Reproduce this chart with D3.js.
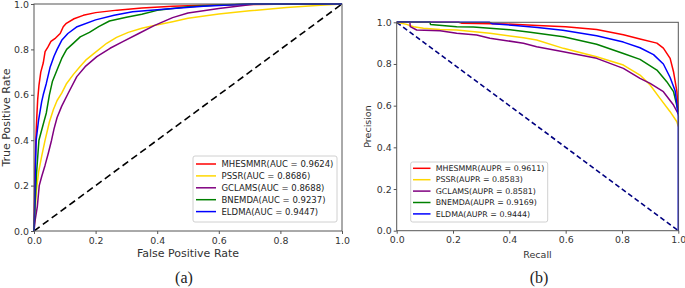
<!DOCTYPE html>
<html>
<head>
<meta charset="utf-8">
<script src="https://cdn.jsdelivr.net/npm/d3@7"></script>
<style>
  html, body { margin: 0; padding: 0; background: #fff; }
  svg { display: block; font-family: "DejaVu Sans", sans-serif; }
</style>
</head>
<body>
<div id="chart"></div>
<script>
// ---- data ----
const models = ["MHESMMR", "PSSR", "GCLAMS", "BNEMDA", "ELDMA"];
const colors = ["#ff0000", "#ffd700", "#800080", "#008000", "#0000ff"];
const aucValues = ["0.9624", "0.8686", "0.8688", "0.9237", "0.9447"];
const auprValues = ["0.9611", "0.8583", "0.8581", "0.9169", "0.9444"];
const tickValues = [0, 0.2, 0.4, 0.6, 0.8, 1.0];

// ROC curves, [fpr, tpr]
const rocMHESMMR = [[0,0],[0.001,0.1],[0.003,0.25],[0.006,0.4],[0.009,0.5],[0.012,0.58],[0.016,0.64],[0.022,0.70],[0.03,0.74],[0.036,0.79],[0.045,0.81],[0.055,0.835],[0.07,0.85],[0.085,0.87],[0.095,0.9],[0.105,0.915],[0.13,0.935],[0.16,0.95],[0.2,0.962],[0.27,0.973],[0.35,0.982],[0.45,0.99],[0.55,0.995],[0.7,0.998],[0.85,1],[1,1]];
const rocPSSR = [[0,0],[0.003,0.08],[0.008,0.18],[0.015,0.26],[0.025,0.33],[0.036,0.4],[0.05,0.48],[0.063,0.535],[0.075,0.575],[0.09,0.607],[0.106,0.65],[0.128,0.69],[0.149,0.724],[0.17,0.755],[0.193,0.78],[0.236,0.827],[0.268,0.853],[0.306,0.875],[0.35,0.893],[0.39,0.905],[0.45,0.922],[0.5,0.937],[0.6,0.956],[0.7,0.97],[0.82,0.985],[0.93,0.995],[1,1]];
const rocGCLAMS = [[0,0],[0.004,0.05],[0.011,0.11],[0.017,0.2],[0.025,0.24],[0.036,0.29],[0.046,0.34],[0.057,0.4],[0.065,0.45],[0.075,0.5],[0.09,0.55],[0.111,0.607],[0.139,0.68],[0.166,0.724],[0.204,0.768],[0.247,0.805],[0.29,0.835],[0.34,0.87],[0.39,0.905],[0.45,0.94],[0.5,0.96],[0.6,0.98],[0.72,1],[1,1]];
const rocBNEMDA = [[0,0],[0.003,0.1],[0.008,0.25],[0.016,0.4],[0.03,0.47],[0.04,0.52],[0.05,0.6],[0.06,0.66],[0.078,0.72],[0.09,0.76],[0.106,0.8],[0.13,0.83],[0.15,0.855],[0.18,0.875],[0.21,0.9],[0.245,0.925],[0.3,0.942],[0.35,0.955],[0.4,0.972],[0.5,0.988],[0.6,0.996],[0.7,1],[1,1]];
const rocELDMA = [[0,0],[0.002,0.1],[0.004,0.25],[0.007,0.4],[0.015,0.49],[0.025,0.57],[0.03,0.6],[0.04,0.65],[0.052,0.72],[0.065,0.77],[0.075,0.8],[0.09,0.84],[0.11,0.87],[0.14,0.9],[0.2,0.93],[0.26,0.95],[0.32,0.966],[0.43,0.978],[0.55,0.99],[0.7,1],[1,1]];

// PR curves, [recall, precision]
const prMHESMMR = [[0,1],[0.22,1],[0.23,0.996],[0.39,0.992],[0.5,0.985],[0.6,0.979],[0.71,0.965],[0.805,0.94],[0.864,0.92],[0.924,0.9],[0.947,0.876],[0.971,0.827],[0.983,0.763],[0.995,0.667],[1,0.58]];
const prPSSR = [[0,1],[0.035,0.99],[0.06,0.979],[0.095,0.971],[0.154,0.966],[0.213,0.963],[0.331,0.947],[0.45,0.926],[0.497,0.915],[0.592,0.875],[0.71,0.835],[0.805,0.795],[0.864,0.747],[0.9,0.699],[0.935,0.635],[0.971,0.571],[0.995,0.523],[1,0.5]];
const prGCLAMS = [[0,1],[0.047,1],[0.048,0.979],[0.071,0.963],[0.154,0.96],[0.213,0.947],[0.284,0.939],[0.331,0.923],[0.39,0.912],[0.45,0.899],[0.497,0.883],[0.592,0.859],[0.71,0.827],[0.805,0.779],[0.864,0.731],[0.9,0.707],[0.947,0.667],[0.983,0.603],[1,0.56]];
const prBNEMDA = [[0,1],[0.118,1],[0.12,0.99],[0.213,0.979],[0.272,0.977],[0.39,0.966],[0.474,0.952],[0.592,0.931],[0.71,0.895],[0.805,0.85],[0.864,0.822],[0.924,0.771],[0.959,0.715],[0.983,0.667],[1,0.57]];
const prELDMA = [[0,1],[0.33,1],[0.34,0.993],[0.42,0.985],[0.5,0.975],[0.59,0.962],[0.71,0.935],[0.805,0.905],[0.864,0.878],[0.912,0.845],[0.947,0.8],[0.971,0.735],[0.989,0.67],[1,0.55],[1,0]];

const rocCurves = [rocMHESMMR, rocPSSR, rocGCLAMS, rocBNEMDA, rocELDMA];
const prCurves = [prMHESMMR, prPSSR, prGCLAMS, prBNEMDA, prELDMA];

const width = 685, height = 288;
const svg = d3.select("#chart").append("svg")
    .attr("width", width)
    .attr("height", height);

function drawPanel(opts) {
    const x = d3.scaleLinear().domain([0, 1]).range([opts.left, opts.right]);
    const y = d3.scaleLinear().domain([0, 1]).range([opts.bottom, opts.top]);
    const g = svg.append("g");

    // reference diagonal
    g.append("path")
        .datum(opts.diagonal)
        .attr("d", d3.line().x(d => x(d[0])).y(d => y(d[1])))
        .attr("fill", "none")
        .attr("stroke", opts.diagColor)
        .attr("stroke-width", 1.6)
        .attr("stroke-dasharray", opts.dash);

    const line = d3.line().x(d => x(d[0])).y(d => y(d[1]));
    g.append("g")
        .selectAll("path")
        .data(opts.curves)
        .join("path")
        .attr("d", line)
        .attr("fill", "none")
        .attr("stroke", (d, i) => colors[i])
        .attr("stroke-width", 1.5)
        .attr("stroke-linejoin", "round");

    // axes
    const fmt = d3.format(".1f");
    g.append("g")
        .attr("transform", `translate(0,${opts.bottom})`)
        .call(d3.axisBottom(x).tickValues(tickValues).tickFormat(fmt).tickSize(3).tickPadding(3))
        .call(a => a.select(".domain").remove())
        .call(a => a.selectAll("line").attr("stroke", "#555"))
        .call(a => a.selectAll("text").attr("font-size", 9.4).attr("fill", "#333").attr("font-family", "DejaVu Sans"));
    g.append("g")
        .attr("transform", `translate(${opts.left},0)`)
        .call(d3.axisLeft(y).tickValues(tickValues).tickFormat(fmt).tickSize(3).tickPadding(2))
        .call(a => a.select(".domain").remove())
        .call(a => a.selectAll("line").attr("stroke", "#555"))
        .call(a => a.selectAll("text").attr("font-size", 9.4).attr("fill", "#333").attr("font-family", "DejaVu Sans"));

    // frame
    g.append("rect")
        .attr("x", opts.left)
        .attr("y", opts.top)
        .attr("width", opts.right - opts.left)
        .attr("height", opts.bottom - opts.top)
        .attr("fill", "none")
        .attr("stroke", "#555")
        .attr("stroke-width", 1);

    // axis titles
    g.append("text")
        .attr("x", (opts.left + opts.right) / 2)
        .attr("y", opts.xLabelY)
        .attr("text-anchor", "middle")
        .attr("font-size", opts.labelSize)
        .attr("fill", "#333")
        .text(opts.xLabel);
    g.append("text")
        .attr("transform", `translate(${opts.yLabelX},${(opts.top + opts.bottom) / 2}) rotate(-90)`)
        .attr("text-anchor", "middle")
        .attr("font-size", opts.labelSize)
        .attr("fill", "#333")
        .text(opts.yLabel);

    // legend
    const lg = g.append("g");
    lg.append("rect")
        .attr("x", opts.legend.x)
        .attr("y", opts.legend.y)
        .attr("width", opts.legend.w)
        .attr("height", opts.legend.h)
        .attr("rx", 2)
        .attr("fill", "#fff")
        .attr("fill-opacity", 0.85)
        .attr("stroke", "#d0d0d0");
    const rows = lg.selectAll("g.row")
        .data(models)
        .join("g")
        .attr("class", "row")
        .attr("transform", (d, i) => `translate(0,${opts.legend.row0 + i * opts.legend.step})`);
    rows.append("line")
        .attr("x1", opts.legend.lineX1)
        .attr("x2", opts.legend.lineX2)
        .attr("stroke", (d, i) => colors[i])
        .attr("stroke-width", 1.5);
    rows.append("text")
        .attr("x", opts.legend.textX)
        .attr("dy", "0.35em")
        .attr("font-size", opts.legend.fontSize)
        .attr("fill", "#222")
        .text((d, i) => `${d}(${opts.metric} = ${opts.values[i]})`);

    // panel caption
    svg.append("text")
        .attr("x", opts.captionX)
        .attr("y", 283)
        .attr("text-anchor", "middle")
        .attr("font-family", "Liberation Serif, serif")
        .attr("font-size", 16)
        .attr("fill", "#222")
        .text(opts.caption);
}

drawPanel({
    left: 34, right: 342, top: 4, bottom: 231,
    curves: rocCurves,
    diagonal: [[0, 0], [1, 1]],
    diagColor: "#000",
    dash: "7,4",
    xLabel: "False Positive Rate", yLabel: "True Positive Rate",
    xLabelY: 257, yLabelX: 10, labelSize: 11,
    metric: "AUC", values: aucValues,
    legend: { x: 193, y: 156, w: 144, h: 66, row0: 164, step: 11.9, lineX1: 196, lineX2: 216, textX: 221.5, fontSize: 8.5 },
    caption: "(a)", captionX: 184
});

drawPanel({
    left: 396.7, right: 678.3, top: 22.3, bottom: 230.7,
    curves: prCurves,
    diagonal: [[0, 1], [1, 0]],
    diagColor: "#000080",
    dash: "5,3",
    xLabel: "Recall", yLabel: "Precision",
    xLabelY: 258, yLabelX: 371, labelSize: 9.5,
    metric: "AUPR", values: auprValues,
    legend: { x: 410.7, y: 162, w: 137, h: 60, row0: 168.3, step: 11.4, lineX1: 413, lineX2: 430.5, textX: 435.7, fontSize: 7.9 },
    caption: "(b)", captionX: 539
});
</script>
</body>
</html>
